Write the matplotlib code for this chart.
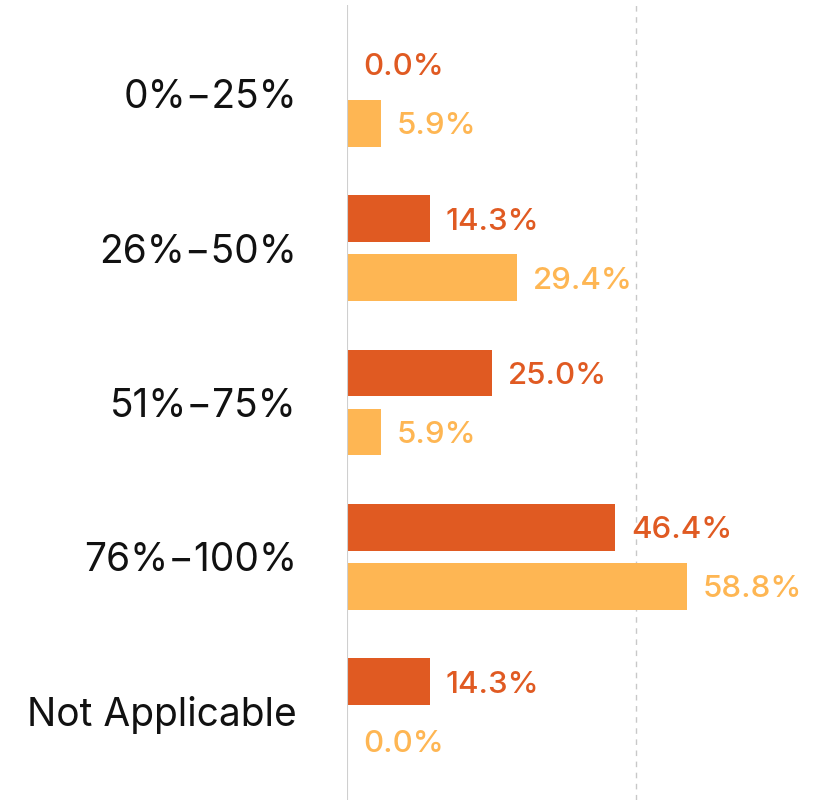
import numpy as np
import matplotlib
matplotlib.use("Agg")
import matplotlib.pyplot as plt

# share of work, by band, for the two survey groups
categories = ["0%\u221225%", "26%\u221250%", "51%\u221275%", "76%\u2212100%", "Not Applicable"]
group_a = [0.0, 14.3, 25.0, 46.4, 14.3]
group_b = [5.9, 29.4, 5.9, 58.8, 0.0]

dark = "#E05A22"
light = "#FEB653"

plt.rcParams["font.family"] = ["Inter", "DejaVu Sans"]

fig = plt.figure(figsize=(8.24, 8.0), dpi=100)
ax = fig.add_axes([347 / 824, 0, 1 - 347 / 824, 795 / 800])

y = np.arange(len(categories))
h = 0.304
off = 0.191

ax.barh(y - off, group_a, height=h, color=dark, zorder=2)
ax.barh(y + off, group_b, height=h, color=light, zorder=2)

for yi, a, b in zip(y, group_a, group_b):
    ax.annotate(f"{a:.1f}%", (a, yi - off), xytext=(11.5, 0), textcoords="offset points",
                va="center_baseline", ha="left", fontsize=22.5, color=dark, fontweight="medium")
    ax.annotate(f"{b:.1f}%", (b, yi + off), xytext=(11.5, 0), textcoords="offset points",
                va="center_baseline", ha="left", fontsize=22.5, color=light, fontweight="medium")

ax.set_xlim(0, 82.5)
ax.set_ylim(len(categories) - 1 + 0.576, -0.576)

ax.axvline(50, color="#c8c8c8", lw=1, ls=(0, (4, 4)), zorder=1)
ax.axvline(0, color="#cfcfcf", lw=1.5, zorder=3)

ax.set_yticks(y)
ax.set_yticklabels(categories, fontsize=28, color="#111111", va="center_baseline")
ax.tick_params(axis="y", length=0, pad=36)
ax.set_xticks([])
for s in ax.spines.values():
    s.set_visible(False)

fig.savefig("out.png", dpi=100)
